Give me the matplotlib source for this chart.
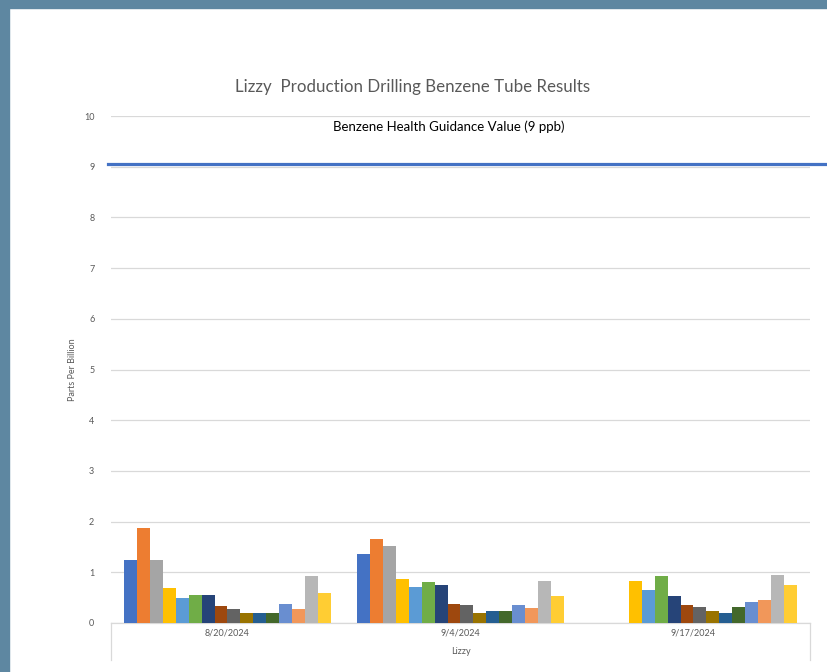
#!/usr/bin/env python3
"""Lizzy production drilling benzene tube results, Excel-style clustered columns."""

import matplotlib
matplotlib.use("Agg")
import matplotlib.pyplot as plt
from matplotlib.lines import Line2D
import numpy as np

plt.rcParams["font.family"] = ["Lato", "DejaVu Sans"]

# sample dates (categories)
dates = ["8/20/2024", "9/4/2024", "9/17/2024"]

# one list per tube / series, values in ppb for each date (nan = no sample)
nan = np.nan
tube_01 = [1.24, 1.36, nan]
tube_02 = [1.87, 1.66, nan]
tube_03 = [1.24, 1.51, nan]
tube_04 = [0.69, 0.86, 0.83]
tube_05 = [0.50, 0.71, 0.65]
tube_06 = [0.56, 0.80, 0.92]
tube_07 = [0.56, 0.74, 0.53]
tube_08 = [0.33, 0.38, 0.36]
tube_09 = [0.27, 0.36, 0.32]
tube_10 = [0.20, 0.20, 0.24]
tube_11 = [0.20, 0.24, 0.20]
tube_12 = [0.20, 0.24, 0.32]
tube_13 = [0.38, 0.36, 0.42]
tube_14 = [0.27, 0.30, 0.45]
tube_15 = [0.92, 0.83, 0.94]
tube_16 = [0.59, 0.53, 0.74]

series = [tube_01, tube_02, tube_03, tube_04, tube_05, tube_06, tube_07, tube_08,
          tube_09, tube_10, tube_11, tube_12, tube_13, tube_14, tube_15, tube_16]

# Office default palette, in series order
colors = ["#4472C4", "#ED7D31", "#A5A5A5", "#FFC000", "#5B9BD5", "#70AD47",
          "#264478", "#9E480E", "#636363", "#997300", "#255E91", "#43682B",
          "#698ED0", "#F1975A", "#B7B7B7", "#FFCD33"]

guidance_level = 9.06   # drawn guidance line (9 ppb)
y_ticks = list(range(0, 11))

W, H = 828, 672
fig = plt.figure(figsize=(W / 100, H / 100), dpi=100)
fig.patch.set_facecolor("white")

# blue-gray frame on left and top
frame = "#5E87A1"
fig.add_artist(plt.Rectangle((0, 0), 9 / W, 1, transform=fig.transFigure,
                             color=frame, zorder=0))
fig.add_artist(plt.Rectangle((0, 1 - 8 / H), 1, 8 / H, transform=fig.transFigure,
                             color=frame, zorder=0))

left, right = 111 / W, 810 / W
bottom, top = (H - 623) / H, (H - 116) / H
ax = fig.add_axes([left, bottom, right - left, top - bottom])

n = len(series)
bar_w = 0.0554
x = np.arange(len(dates))
for i, (vals, c) in enumerate(zip(series, colors)):
    ax.bar(x + (i - (n - 1) / 2) * bar_w, vals, width=bar_w, color=c,
           linewidth=0, zorder=3)

ax.set_xlim(-0.5, len(dates) - 0.5)
ax.set_ylim(0, 10)
ax.set_yticks(y_ticks)
ax.yaxis.grid(True, color="#D9D9D9", linewidth=0.9, zorder=0)
ax.set_axisbelow(True)
for s in ["top", "right", "left"]:
    ax.spines[s].set_visible(False)
ax.spines["bottom"].set_color("#D9D9D9")
ax.spines["bottom"].set_linewidth(0.9)

ax.tick_params(axis="y", length=0, pad=12, labelsize=6.5, labelcolor="#595959")
ax.set_xticks(x)
ax.set_xticklabels(dates)
ax.tick_params(axis="x", length=0, pad=4, labelsize=6.5, labelcolor="#595959")

# outer category box (multi-level axis)
box_depth = 37 / (623 - 116)
for xa in (0, 1):
    ax.add_line(Line2D([xa, xa], [0, -box_depth], transform=ax.transAxes,
                       color="#D9D9D9", linewidth=0.9, clip_on=False))
ax.text(0.5, -29 / (623 - 116), "Lizzy", transform=ax.transAxes, ha="center",
        va="center", fontsize=6.5, color="#595959")

ax.set_ylabel("Parts Per Billion", fontsize=6.5, color="#595959", labelpad=10)
ax.yaxis.set_label_coords(-34 / (810 - 111), 0.5)

# guidance line, extends past the plot area to the image edge
ax.axhline(guidance_level, xmin=-0.005, xmax=1.04, color="#4472C4",
           linewidth=2.3, clip_on=False, zorder=4)
ax.text((449 - 111) / (810 - 111), (623 - 127) / (623 - 116),
        "Benzene Health Guidance Value (9 ppb)", transform=ax.transAxes,
        ha="center", va="center", fontsize=9.5, color="black")

fig.text(413 / W, 1 - 87 / H, "Lizzy  Production Drilling Benzene Tube Results",
         ha="center", va="center", fontsize=12.2, color="#595959")

fig.savefig("out.png", dpi=100, facecolor="white")
